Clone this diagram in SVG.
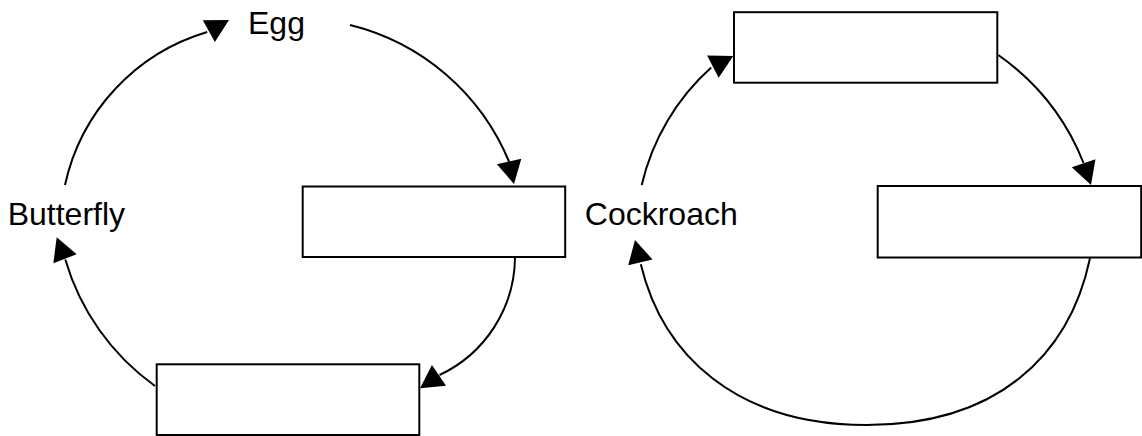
<svg xmlns="http://www.w3.org/2000/svg" xmlns:xlink="http://www.w3.org/1999/xlink" width="1142" height="436" viewBox="0 0 1142 436">
  <style>
    .box { fill: #ffffff; stroke: #000000; stroke-width: 2; }
    .lbl { font-family: "Liberation Sans", Arial, sans-serif; font-size: 32px; fill: #000000; }
    .edge { fill: none; stroke: #000000; stroke-width: 2; }
    .head { fill: #000000; stroke: none; }
  </style>
  <defs>
    <path id="ah" class="head" d="M0,0 L-23,-12.5 L-23,12.5 Z"/>
  </defs>
  <rect x="0" y="0" width="1142" height="436" fill="#ffffff"/>

  <!-- Butterfly cycle -->
  <g id="egg"><text class="lbl" x="248" y="33.5">Egg</text></g>
  <g id="butterfly-stage2"><rect class="box" x="302.7" y="186.5" width="262.5" height="70.5"/></g>
  <g id="butterfly-stage3"><rect class="box" x="156.7" y="364.3" width="262.6" height="70.7"/></g>
  <g id="butterfly"><text class="lbl" x="7.7" y="225">Butterfly</text></g>

  <!-- Cockroach cycle -->
  <g id="cockroach"><text class="lbl" x="584.8" y="225">Cockroach</text></g>
  <g id="cockroach-stage1"><rect class="box" x="734" y="12.2" width="263.3" height="70.5"/></g>
  <g id="cockroach-stage2"><rect class="box" x="877.7" y="186" width="263.5" height="71.5"/></g>

  <g id="connectors">
    <!-- Egg -> stage 2 -->
    <path class="edge" d="M350,25 A232,232 0 0,1 509.2,162"/>
    <use xlink:href="#ah" href="#ah" transform="translate(514,184) rotate(77.7)"/>
    <!-- stage 2 -> stage 3 -->
    <path class="edge" d="M515,258 A131,131 0 0,1 439.5,375"/>
    <use xlink:href="#ah" href="#ah" transform="translate(420,388.3) rotate(145.7)"/>
    <!-- stage 3 -> Butterfly -->
    <path class="edge" d="M155,386 A237,237 0 0,1 65.3,259.5"/>
    <use xlink:href="#ah" href="#ah" transform="translate(56.7,237.3) rotate(-111.2)"/>
    <!-- Butterfly -> Egg -->
    <path class="edge" d="M65,185 A205,205 0 0,1 207.2,32"/>
    <use xlink:href="#ah" href="#ah" transform="translate(229,20) rotate(-28.8)"/>

    <!-- Cockroach -> stage 1 -->
    <path class="edge" d="M641.7,185 A227,227 0 0,1 711.2,67.5"/>
    <use xlink:href="#ah" href="#ah" transform="translate(733.3,56) rotate(-27.5)"/>
    <!-- stage 1 -> stage 2 -->
    <path class="edge" d="M998.3,55 A240,240 0 0,1 1083.5,162.8"/>
    <use xlink:href="#ah" href="#ah" transform="translate(1091,185) rotate(71.3)"/>
    <!-- stage 2 -> Cockroach -->
    <path class="edge" d="M1090,258.3 C1069.3,356.1 996.7,425 866.7,425 C735.7,425 662.5,354.6 640.8,264.2"/>
    <use xlink:href="#ah" href="#ah" transform="translate(635,240) rotate(-103.5)"/>
  </g>
</svg>
